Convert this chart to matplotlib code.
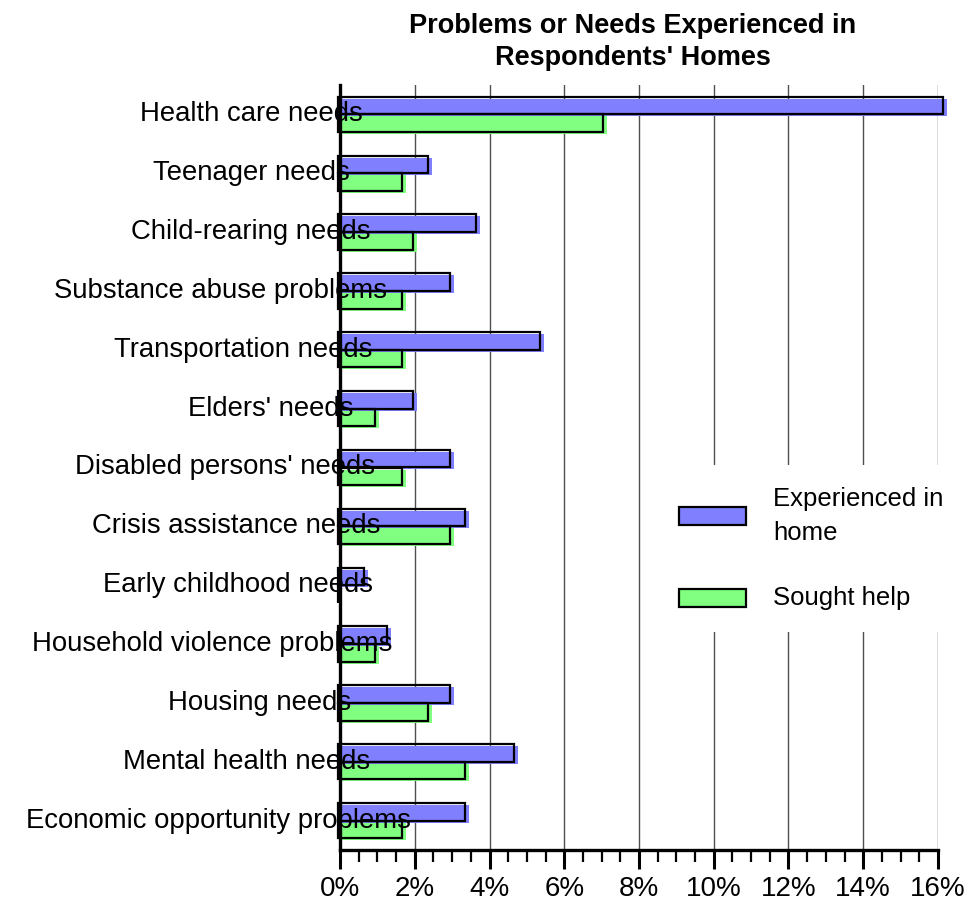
import numpy as np
import matplotlib.pyplot as plt
from matplotlib.patches import Rectangle
from matplotlib.transforms import offset_copy
from matplotlib.ticker import MultipleLocator, PercentFormatter

plt.rcParams['font.family'] = ['Liberation Sans', 'DejaVu Sans']

# Share of respondents (%), listed top to bottom
categories = ["Health care needs", "Teenager needs", "Child-rearing needs",
              "Substance abuse problems", "Transportation needs", "Elders' needs",
              "Disabled persons' needs", "Crisis assistance needs",
              "Early childhood needs", "Household violence problems",
              "Housing needs", "Mental health needs", "Economic opportunity problems"]
experienced = [16.2, 2.4, 3.7, 3.0, 5.4, 2.0, 3.0, 3.4, 0.7, 1.3, 3.0, 4.7, 3.4]
sought_help = [7.1, 1.7, 2.0, 1.7, 1.7, 1.0, 1.7, 3.0, 0.0, 1.0, 2.4, 3.4, 1.7]
series_names = ["Experienced in\nhome", "Sought help"]

# horizontal centre of each category label, in pixels from the figure's left edge
label_cx = [251, 251, 251, 221, 243, 271, 225, 236, 238, 212, 260, 247, 218]

W, H = 969, 901
fig = plt.figure(figsize=(W / 100, H / 100), dpi=100)
ax = fig.add_axes([340 / W, 1 - 850 / H, 598 / W, 765 / H])

blue = '#8080ff'
green = '#80ff80'
y = np.arange(len(categories))
h = 0.3

# colour fills sit a few pixels off the black outlines
fill_tr = offset_copy(ax.transData, fig=fig, x=2, y=-2, units='dots')
edge_tr = offset_copy(ax.transData, fig=fig, x=-2, y=0, units='dots')

for vals, col, off in [(experienced, blue, -h / 2), (sought_help, green, h / 2)]:
    ax.barh(y + off, vals, height=h, color=col, linewidth=0,
            transform=fill_tr, zorder=2, clip_on=False)
    ax.barh(y + off, vals, height=h, facecolor='none', edgecolor='black',
            linewidth=1.6, transform=edge_tr, zorder=3, clip_on=False)

ax.set_xlim(0, 16)
ax.set_ylim(len(categories) - 0.5, -0.5)

ax.xaxis.set_major_locator(MultipleLocator(2))
ax.xaxis.set_minor_locator(MultipleLocator(0.5))
ax.xaxis.set_major_formatter(PercentFormatter(decimals=0))
ax.tick_params(axis='x', which='major', length=14, width=2.2, pad=5,
               labelsize=20, direction='out')
ax.tick_params(axis='x', which='minor', length=8.6, width=1.6, direction='out')
ax.set_yticks([])
ax.grid(axis='x', which='major', color='#505050', linewidth=1.0, zorder=0)
ax.set_axisbelow(True)

for s in ['top', 'right']:
    ax.spines[s].set_visible(False)
ax.spines['left'].set_linewidth(2.4)
ax.spines['bottom'].set_linewidth(2.4)
ax.spines['left'].set_zorder(4)

# category labels, overlapping the start of the bars
for name, cx, yi in zip(categories, label_cx, y):
    ax.annotate(name, xy=(0, yi), xycoords=('axes fraction', 'data'),
                xytext=(cx - 340, -7), textcoords='offset pixels',
                ha='center', va='baseline', fontsize=19.8, zorder=5,
                annotation_clip=False)

fig.text(633 / W, 1 - 65 / H, "Problems or Needs Experienced in\nRespondents' Homes",
         ha='center', va='baseline', fontsize=19.5, fontweight='bold',
         linespacing=1.3)


def px(x, yy):
    return x / W, 1 - yy / H


# legend panel drawn over the gridlines
lx0, ly0 = px(652, 632)
fig.patches.append(Rectangle((lx0, ly0), (958 - 652) / W, (632 - 465) / H,
                             transform=fig.transFigure, facecolor='white',
                             edgecolor='none', zorder=6))
for name, col, cy in zip(series_names, [blue, green], [516, 598]):
    bx, by = px(679, cy + 9)
    fig.patches.append(Rectangle((bx, by), 67 / W, 18 / H,
                                 transform=fig.transFigure, facecolor=col,
                                 edgecolor='black', linewidth=1.6, zorder=7))
    fig.text(773 / W, 1 - cy / H, name, ha='left', va='center', fontsize=18.5,
             linespacing=1.55, zorder=8)

fig.savefig('out.png', dpi=100)
